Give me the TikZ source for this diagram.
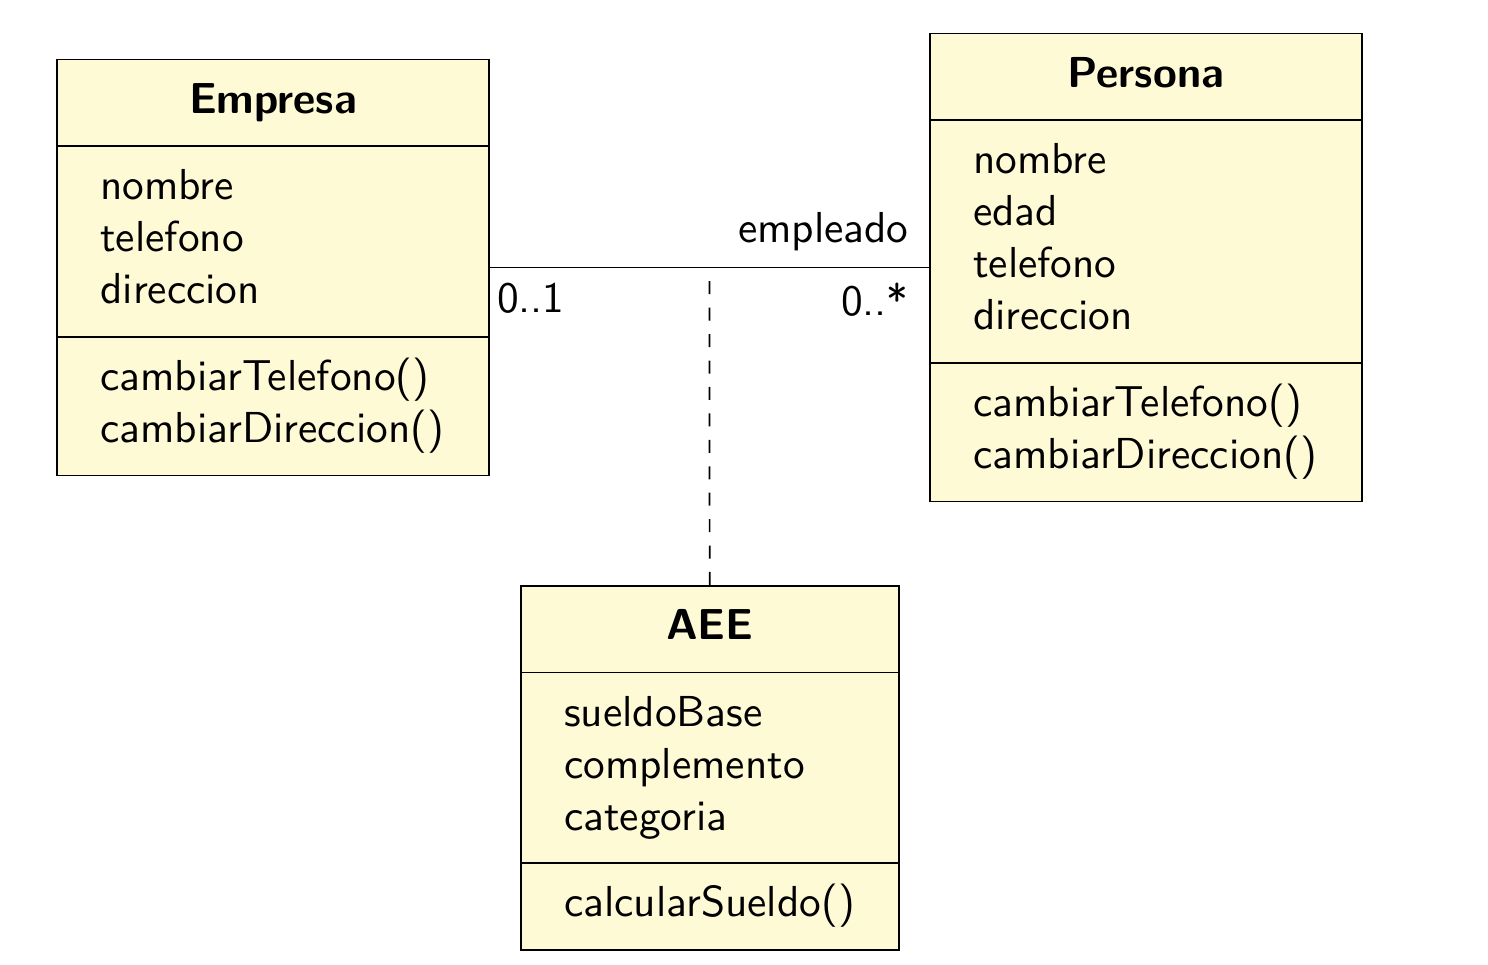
\documentclass[tikz,border=0pt]{standalone}
\usetikzlibrary{shapes.multipart}
\definecolor{classfill}{RGB}{255,250,214}
\begin{document}
\begin{tikzpicture}[font=\sffamily,
  umlclass/.style={rectangle split, rectangle split parts=3, rectangle split part align={center, left, left}, draw, fill=classfill, inner xsep=10pt, inner ysep=3.8pt}]
\useasboundingbox (0, 0) rectangle (12.07, -7.82);
\node (empresa) at (2.214, -2.17) [umlclass, minimum width=3.504cm] {\begin{tabular}{@{}c@{}}\textbf{Empresa}\end{tabular}
  \nodepart{second}\begin{tabular}{@{}l@{}}nombre\\telefono\\direccion\end{tabular}
  \nodepart{third}\begin{tabular}{@{}l@{}}cambiarTelefono()\\cambiarDireccion()\end{tabular}};
\node (persona) at (9.294, -2.17) [umlclass, minimum width=3.504cm] {\begin{tabular}{@{}c@{}}\textbf{Persona}\end{tabular}
  \nodepart{second}\begin{tabular}{@{}l@{}}nombre\\edad\\telefono\\direccion\end{tabular}
  \nodepart{third}\begin{tabular}{@{}l@{}}cambiarTelefono()\\cambiarDireccion()\end{tabular}};
\node (aee) at (5.758, -4.745) [umlclass, anchor=north, minimum width=3.066cm] {\begin{tabular}{@{}c@{}}\textbf{AEE}\end{tabular}
  \nodepart{second}\begin{tabular}{@{}l@{}}sueldoBase\\complemento\\categoria\end{tabular}
  \nodepart{third}\begin{tabular}{@{}l@{}}calcularSueldo()\end{tabular}};
\draw (empresa) -- coordinate (mid) (persona)
  node [pos=0, anchor=north west, inner xsep=1.5pt] {0..1}
  node [pos=1, anchor=north east, inner xsep=4.5pt] {0..*}
  node [pos=1, anchor=south east, inner xsep=4.5pt, inner ysep=3.6pt] {empleado};
\draw [dash pattern=on 3pt off 3.1pt] (aee) -- (mid);
\end{tikzpicture}
\end{document}
